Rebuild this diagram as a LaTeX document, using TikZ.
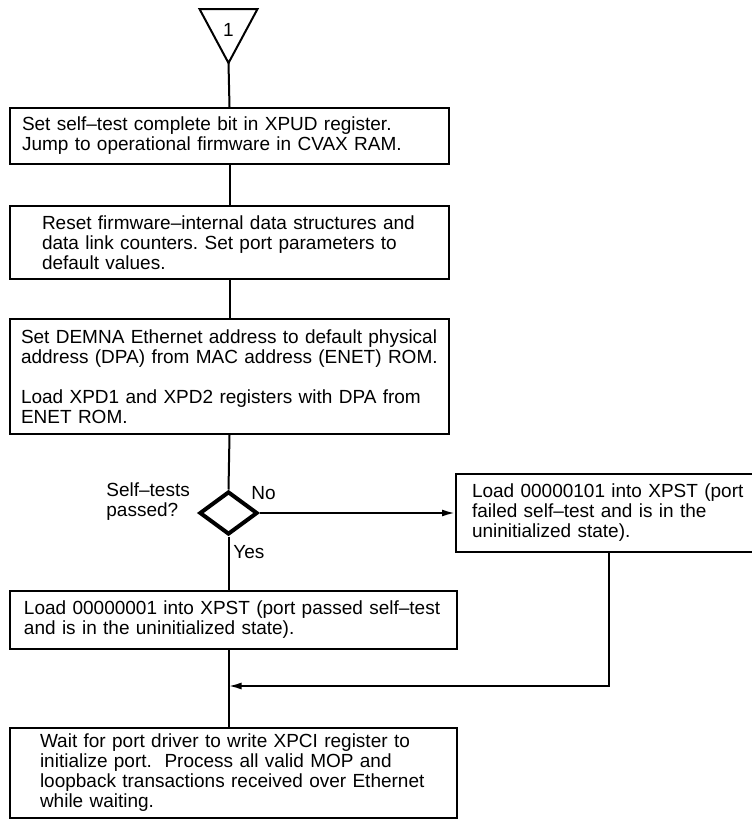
\documentclass[tikz,border=0pt]{standalone}
\usepackage{fontspec}
\setmainfont{Liberation Sans}
\usetikzlibrary{shapes.geometric,arrows.meta,positioning}
\frenchspacing

\begin{document}
\begin{tikzpicture}[
      x=0.5pt, y=-0.5pt,
      % --- GLOBAL STYLES ---
      every node/.style={font=\fontsize{9.5}{10}\selectfont},
      stepbox/.style={rectangle, draw=black, line width=1pt, anchor=north west, align=left, inner ysep=0pt},
      decision/.style={diamond, draw=black, line width=2pt, minimum width=29pt, minimum height=21.5pt, inner sep=0pt},
      lbl/.style={anchor=west, align=left, inner sep=0pt},
      line/.style={line width=1pt, draw=black},
      flow/.style={line width=1pt, draw=black, -{Latex[length=6.5pt,width=3.5pt]}}
  ]
    \useasboundingbox (0,0) rectangle (751,819);
    %
    % 1. Off-page connector
    \draw[line, line join=miter] (199.5,9) -- (257.5,9) -- (228.5,63) -- cycle;
    \node (pagemark) at (228.5,30) {1};
    \coordinate (apex) at (228.5,63);
    %
    % 2. Steps
    \node[stepbox, minimum width=219.5pt, minimum height=28pt, text width=207.5pt, inner xsep=6pt] (setbit) at (9,107)
      {Set self–test complete bit in XPUD register.\\Jump to operational firmware in CVAX RAM.};
    \node[stepbox, minimum width=219.5pt, minimum height=36.5pt, text width=187.5pt, inner xsep=16pt] (reset) at (9,205)
      {Reset firmware–internal data structures and\\data link counters. Set port parameters to\\default values.};
    \node[stepbox, minimum width=219.5pt, minimum height=57.5pt, text width=208.5pt, inner xsep=5.5pt] (dpa) at (9,318)
      {Set DEMNA Ethernet address to default physical\\address (DPA) from MAC address (ENET) ROM.\\[10pt]Load XPD1 and XPD2 registers with DPA from\\ENET ROM.};
    %
    % 3. Decision
    \node[decision] (selftest) at (228.5,513) {};
    \node[lbl] (asktext) at (106,502) {Self–tests\\passed?};
    \node[lbl] (nolbl) at (251,493) {No};
    \node[lbl] (yeslbl) at (233,552) {Yes};
    %
    % 4. Outcomes
    \node[stepbox, minimum width=153pt, minimum height=39pt, text width=137pt, inner xsep=8pt] (failed) at (455,473)
      {Load 00000101 into XPST (port\\failed self–test and is in the\\uninitialized state).};
    \node[stepbox, minimum width=223.5pt, minimum height=29pt, text width=209.5pt, inner xsep=7pt] (passed) at (9,590)
      {Load 00000001 into XPST (port passed self–test\\and is in the uninitialized state).};
    \node[stepbox, minimum width=223.5pt, minimum height=45pt, text width=193.5pt, inner xsep=15pt] (wait) at (9,727)
      {Wait for port driver to write XPCI register to\\initialize port.\ \ Process all valid MOP and\\loopback transactions received over Ethernet\\while waiting.};
    \coordinate (merge) at (228.5,686);
    %
    % 5. Links
    \draw[line] (apex) -- (setbit.north);
    \draw[line] (setbit.south) -- (reset.north);
    \draw[line] (reset.south) -- (dpa.north);
    \draw[line] (dpa.south) -- (selftest.north);
    \draw[flow] (selftest.east) -- (selftest.east -| failed.west);
    \draw[line] (selftest.south) -- (selftest.south |- passed.north);
    \draw[line] (passed.south -| selftest.south) -- (wait.north -| selftest.south);
    \draw[flow] (failed.south) |- (merge);
  \end{tikzpicture}
\end{document}
